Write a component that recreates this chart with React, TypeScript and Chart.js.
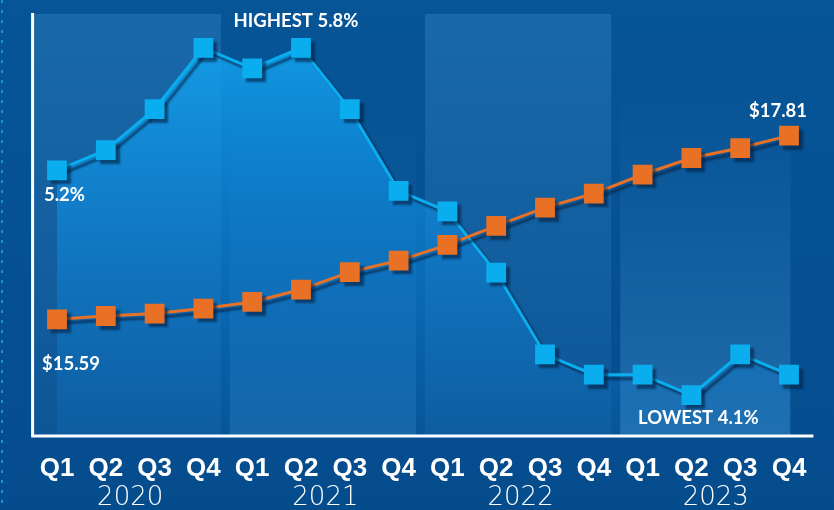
import React, { useEffect, useRef } from "react";
import { Chart, registerables } from "chart.js";

Chart.register(...registerables);

const quarters = ["Q1", "Q2", "Q3", "Q4", "Q1", "Q2", "Q3", "Q4", "Q1", "Q2", "Q3", "Q4", "Q1", "Q2", "Q3", "Q4"];
const years = ["2020", "2021", "2022", "2023"];
const unemployment = [5.2, 5.3, 5.5, 5.8, 5.7, 5.8, 5.5, 5.1, 5.0, 4.7, 4.3, 4.2, 4.2, 4.1, 4.3, 4.2];
const wages = [15.59, 15.63, 15.66, 15.72, 15.8, 15.95, 16.16, 16.3, 16.49, 16.72, 16.94, 17.11, 17.34, 17.54, 17.66, 17.81];
const labels = quarters.map((q, i) => `${q} ${years[Math.floor(i / 4)]}`);

const BLUE = "#0aaeef";
const ORANGE = "#e97125";

const decorPlugin = {
  id: "decor",
  beforeDraw(chart: any) {
    const { ctx, width, height, chartArea } = chart;
    const x = chart.scales.x;
    ctx.save();
    const bg = ctx.createLinearGradient(0, 0, 0, height);
    bg.addColorStop(0, "#065597");
    bg.addColorStop(1, "#054c8d");
    ctx.fillStyle = bg;
    ctx.fillRect(0, 0, width, height);
    // dotted left edge
    ctx.strokeStyle = "rgba(30,150,230,0.9)";
    ctx.lineWidth = 2;
    ctx.setLineDash([3, 7]);
    ctx.beginPath();
    ctx.moveTo(2, 0);
    ctx.lineTo(2, height);
    ctx.stroke();
    ctx.setLineDash([]);
    // year bands
    const step = x.getPixelForValue(1) - x.getPixelForValue(0);
    for (let k = 0; k < years.length; k++) {
      const b0 = x.getPixelForValue(4 * k) - step / 2;
      const b1 = x.getPixelForValue(4 * k + 3) + step / 2;
      const left = b0 + (k === 0 ? 0 : 2);
      const right = b1 - (k === 3 ? 23 : 7);
      if (k % 2 === 0) {
        const g = ctx.createLinearGradient(0, chartArea.top, 0, chartArea.bottom);
        g.addColorStop(0, "rgba(70,150,210,0.30)");
        g.addColorStop(1, "rgba(70,150,210,0.12)");
        ctx.fillStyle = g;
        ctx.fillRect(left, chartArea.top, right - left, chartArea.bottom - chartArea.top);
      } else {
        const t = k === 1 ? 110 : 90;
        const g = ctx.createLinearGradient(0, t, 0, chartArea.bottom);
        g.addColorStop(0, "rgba(70,150,210,0.0)");
        g.addColorStop(1, k === 3 ? "rgba(80,160,215,0.38)" : "rgba(70,150,210,0.28)");
        ctx.fillStyle = g;
        ctx.fillRect(left, t, right - left, chartArea.bottom - t);
      }
    }
    ctx.restore();
  },
  beforeDatasetDraw(chart: any) {
    const ctx = chart.ctx;
    ctx.save();
    ctx.shadowColor = "rgba(5,35,70,0.65)";
    ctx.shadowOffsetX = 4;
    ctx.shadowOffsetY = 4;
    ctx.shadowBlur = 2;
  },
  afterDatasetDraw(chart: any) {
    chart.ctx.restore();
  },
  afterDraw(chart: any) {
    const { ctx, chartArea } = chart;
    const x = chart.scales.x;
    ctx.save();
    // axis lines
    ctx.strokeStyle = "#ffffff";
    ctx.lineWidth = 3;
    ctx.beginPath();
    ctx.moveTo(chartArea.left, chartArea.top - 1);
    ctx.lineTo(chartArea.left, chartArea.bottom);
    ctx.lineTo(chartArea.right, chartArea.bottom);
    ctx.stroke();
    // x labels
    ctx.fillStyle = "#ffffff";
    ctx.textAlign = "center";
    ctx.textBaseline = "middle";
    ctx.font = "bold 26px 'Liberation Sans'";
    quarters.forEach((q, i) => {
      ctx.fillText(q, x.getPixelForValue(i), chartArea.bottom + 33);
    });
    ctx.font = "200 26px 'DejaVu Sans'";
    years.forEach((y, k) => {
      const cx = (x.getPixelForValue(4 * k + 1) + x.getPixelForValue(4 * k + 2)) / 2;
      ctx.fillText(y, cx, chartArea.bottom + 62);
    });
    // annotations
    const bm = chart.getDatasetMeta(1).data;
    const om = chart.getDatasetMeta(0).data;
    ctx.font = "bold 18.5px Lato";
    ctx.textAlign = "left";
    ctx.fillText(`${unemployment[0]}%`, bm[0].x - 13, bm[0].y + 25);
    ctx.fillText(`$${wages[0].toFixed(2)}`, om[0].x - 15, om[0].y + 45);
    ctx.textAlign = "center";
    const hi = unemployment.indexOf(Math.max(...unemployment), 4);
    const lo = unemployment.indexOf(Math.min(...unemployment));
    ctx.fillText(`HIGHEST ${unemployment[hi]}%`, bm[hi].x - 5, bm[hi].y - 27);
    ctx.fillText(`LOWEST ${unemployment[lo]}%`, bm[lo].x + 7, bm[lo].y + 23);
    const last = wages.length - 1;
    ctx.fillText(`$${wages[last].toFixed(2)}`, om[last].x - 11, om[last].y - 25);
    ctx.restore();
  },
};

export default function App() {
  const ref = useRef<HTMLCanvasElement | null>(null);
  useEffect(() => {
    document.body.style.margin = "0";
    const canvas = ref.current!;
    const ctx = canvas.getContext("2d")!;
    const fillGrad = ctx.createLinearGradient(0, 40, 0, 436);
    fillGrad.addColorStop(0, "rgba(20,165,240,0.85)");
    fillGrad.addColorStop(0.5, "rgba(15,140,225,0.55)");
    fillGrad.addColorStop(1, "rgba(15,130,215,0.15)");
    const chart = new Chart(canvas, {
      type: "line",
      data: {
        labels,
        datasets: [
          {
            label: "Average hourly wage",
            data: wages,
            yAxisID: "yW",
            borderColor: ORANGE,
            backgroundColor: ORANGE,
            borderWidth: 3,
            pointStyle: "rect",
            pointRadius: 14,
            pointBorderWidth: 0,
            pointBackgroundColor: ORANGE,
            tension: 0,
            fill: false,
            order: 0,
          },
          {
            label: "Unemployment rate",
            data: unemployment,
            yAxisID: "yU",
            borderColor: BLUE,
            backgroundColor: fillGrad,
            borderWidth: 3,
            pointStyle: "rect",
            pointRadius: 14,
            pointBorderWidth: 0,
            pointBackgroundColor: BLUE,
            tension: 0,
            fill: "start",
            order: 1,
          },
        ],
      },
      options: {
        responsive: false,
        animation: false,
        layout: { padding: { left: 32.6, right: 20.6, top: 13, bottom: 74 } },
        plugins: { legend: { display: false }, tooltip: { enabled: false } },
        scales: {
          x: { type: "category", offset: true, display: false },
          yU: { type: "linear", display: false, min: 3.9, max: 5.966 },
          yW: { type: "linear", display: false, min: 14.18, max: 19.28 },
        },
      },
      plugins: [decorPlugin],
    });
    return () => chart.destroy();
  }, []);
  return (
    <div style={{ width: 834, height: 510 }}>
      <canvas ref={ref} width={834} height={510} style={{ display: "block" }} />
    </div>
  );
}
